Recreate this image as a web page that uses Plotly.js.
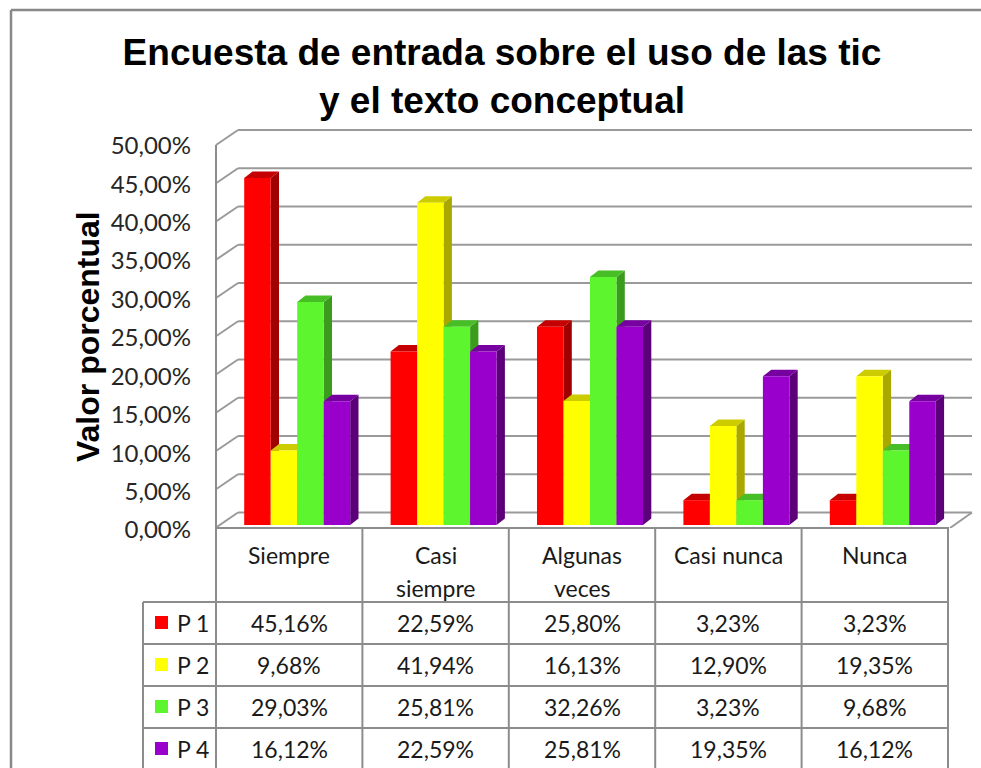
<!DOCTYPE html>
<html>
<head>
<meta charset="utf-8">
<script src="https://cdn.plot.ly/plotly-3.0.1.min.js"></script>
<style>html,body{margin:0;padding:0;background:#fff;}#chart{width:981px;height:768px;}</style>
</head>
<body>
<div id="chart"></div>
<script>
// ---- data ----
const categories = ['Siempre', 'Casi siempre', 'Algunas veces', 'Casi nunca', 'Nunca'];
const headerLines = [['Siempre'], ['Casi', 'siempre'], ['Algunas', 'veces'], ['Casi nunca'], ['Nunca']];
const seriesNames = ['P 1', 'P 2', 'P 3', 'P 4'];
const p1 = [45.16, 22.59, 25.80, 3.23, 3.23];
const p2 = [9.68, 41.94, 16.13, 12.90, 19.35];
const p3 = [29.03, 25.81, 32.26, 3.23, 9.68];
const p4 = [16.12, 22.59, 25.81, 19.35, 16.12];
const yTickVals = [0, 5, 10, 15, 20, 25, 30, 35, 40, 45, 50];
const chartTitle = ['Encuesta de entrada sobre el uso de las tic', 'y el texto conceptual'];
const yTitle = 'Valor porcentual';

// ---- styles ----
const series = [p1, p2, p3, p4];
const frontColors = ['#FF0000', '#FFFF00', '#5CF52E', '#9900CC'];
const sideColors = ['#A00000', '#A8A800', '#3A9B1D', '#5C007A'];
const topColors = ['#C40000', '#CCCC00', '#48BE26', '#7600A0'];
const gridColor = '#9a9a9a';
const lineColor = '#8c8c8c';
const txtFont = 'Lato, "Open Sans", sans-serif';
const txtSize = 23;

const W = 981, H = 768;
const px = x => x / W;
const py = y => 1 - y / H;

// plot area in pixels
const domTop = 120, domBot = 528;
const xLeft = 216, xRight = 948;
const backDx = 22;
// y scales (pixels per unit, zero pixel)
const barZero = 525, barK = 7.684;
const backZero = 512.5, backK = 7.65;
const frontZero = 527.5, frontK = 7.65;
const rangeFor = (zero, k) => { const r0 = -(domBot - zero) / k; return [r0, r0 + (domBot - domTop) / k]; };

const colW = (xRight - xLeft) / categories.length;
const barW = 26.5 / colW;
const groupShift = 8 / colW;
const dxU = 8.3 / colW;
const dyU = 6.5 / barK;
const fmt = v => v.toFixed(2).replace('.', ',') + '%';
const xIdx = categories.map((c, i) => i);

const traces = series.map((vals, k) => ({
  type: 'bar',
  name: seriesNames[k],
  x: xIdx,
  y: vals,
  customdata: categories,
  width: barW,
  offset: -2 * barW + groupShift + k * barW,
  marker: {color: frontColors[k], line: {width: 0}},
  hovertemplate: '%{customdata}: %{y:.2f}%<extra>' + seriesNames[k] + '</extra>',
  showlegend: false
}));

const shapes = [];
// back wall gridlines (y3 = back scale) and side diagonals
yTickVals.forEach(v => {
  shapes.push({type: 'line', layer: 'below', xref: 'paper', yref: 'y3',
    x0: px(xLeft + backDx), x1: px(xRight + backDx + 2), y0: v, y1: v,
    line: {color: gridColor, width: 2}});
  const frontPx = frontZero - frontK * v;
  const front3 = (backZero - frontPx) / backK;
  shapes.push({type: 'line', layer: 'below', xref: 'paper', yref: 'y3',
    x0: px(xLeft), x1: px(xLeft + backDx), y0: front3, y1: v,
    line: {color: gridColor, width: 2}});
});
// floor right diagonal
shapes.push({type: 'line', layer: 'below', xref: 'paper', yref: 'y3',
  x0: px(xRight + 2), x1: px(xRight + backDx + 2), y0: (backZero - domBot) / backK, y1: 0,
  line: {color: gridColor, width: 2}});
// front-left axis line
shapes.push({type: 'line', layer: 'above', xref: 'paper', yref: 'paper',
  x0: px(xLeft), x1: px(xLeft), y0: py(frontZero - frontK * 50), y1: py(H),
  line: {color: lineColor, width: 2}});

// 3D faces of bars
series.forEach((vals, k) => {
  const off = -2 * barW + groupShift + k * barW;
  vals.forEach((v, i) => {
    const xl = i + off, xr = xl + barW;
    shapes.push({type: 'path', layer: 'below', xref: 'x', yref: 'y',
      path: `M ${xr},0 L ${xr + dxU},${dyU} L ${xr + dxU},${v + dyU} L ${xr},${v} Z`,
      fillcolor: sideColors[k], line: {width: 0}});
    shapes.push({type: 'path', layer: 'below', xref: 'x', yref: 'y',
      path: `M ${xl},${v} L ${xr},${v} L ${xr + dxU},${v + dyU} L ${xl + dxU},${v + dyU} Z`,
      fillcolor: topColors[k], line: {width: 0}});
  });
});

// outer chart border
shapes.push({type: 'line', xref: 'paper', yref: 'paper', x0: px(11), x1: px(W), y0: py(10), y1: py(10), line: {color: '#888', width: 2.5}});
shapes.push({type: 'line', xref: 'paper', yref: 'paper', x0: px(11), x1: px(11), y0: py(10), y1: py(H), line: {color: '#888', width: 2.5}});

// data table grid
const tblLeft = 143;
const headerTop = 528, headerBot = 602, rowH = 42;
const rowTops = seriesNames.map((s, k) => headerBot + k * rowH);
shapes.push({type: 'line', xref: 'paper', yref: 'paper', x0: px(xLeft), x1: px(xRight + 1), y0: py(headerTop), y1: py(headerTop), line: {color: lineColor, width: 2}});
rowTops.forEach(t => {
  shapes.push({type: 'line', xref: 'paper', yref: 'paper', x0: px(tblLeft), x1: px(xRight + 1), y0: py(t), y1: py(t), line: {color: lineColor, width: 2}});
});
for (let c = 1; c <= categories.length; c++) {
  const xx = xLeft + c * colW;
  shapes.push({type: 'line', xref: 'paper', yref: 'paper', x0: px(xx), x1: px(xx), y0: py(headerTop), y1: py(H), line: {color: lineColor, width: 2}});
}
shapes.push({type: 'line', xref: 'paper', yref: 'paper', x0: px(tblLeft), x1: px(tblLeft), y0: py(headerBot), y1: py(H), line: {color: lineColor, width: 2}});

// legend keys in the table
rowTops.forEach((t, k) => {
  shapes.push({type: 'rect', xref: 'paper', yref: 'paper', x0: px(155), x1: px(168), y0: py(t + 14), y1: py(t + 27),
    fillcolor: frontColors[k], line: {width: 0}});
});

const annotations = [];
// y-axis title
annotations.push({text: '<b>' + yTitle + '</b>', textangle: -90, xref: 'paper', yref: 'paper',
  x: px(88), y: py(337), showarrow: false, xanchor: 'center', yanchor: 'middle',
  font: {family: '"Liberation Sans", Arial, sans-serif', size: 32, color: '#000'}});
// header labels
headerLines.forEach((lines, i) => {
  lines.forEach((ln, j) => {
    annotations.push({text: ln, xref: 'x', yref: 'paper', x: i, y: py(555 + j * 33),
      showarrow: false, xanchor: 'center', yanchor: 'middle',
      font: {family: txtFont, size: txtSize, color: '#1a1a1a'}});
  });
});
// row labels and values
series.forEach((vals, k) => {
  const cy = py(rowTops[k] + rowH / 2);
  annotations.push({text: seriesNames[k], xref: 'paper', yref: 'paper', x: px(175), y: cy,
    showarrow: false, xanchor: 'left', yanchor: 'middle',
    font: {family: txtFont, size: txtSize, color: '#1a1a1a'}});
  vals.forEach((v, i) => {
    annotations.push({text: fmt(v), xref: 'x', yref: 'paper', x: i, y: cy,
      showarrow: false, xanchor: 'center', yanchor: 'middle',
      font: {family: txtFont, size: txtSize, color: '#1a1a1a'}});
  });
});

const layout = {
  width: W, height: H,
  margin: {l: 0, r: 0, t: 0, b: 0},
  paper_bgcolor: '#fff', plot_bgcolor: 'rgba(0,0,0,0)',
  barmode: 'overlay',
  showlegend: false,
  title: {text: chartTitle.map(t => '<b>' + t + '</b>').join('<br>'),
    x: px(502), xanchor: 'center', xref: 'paper', y: py(65), yanchor: 'top', yref: 'paper',
    font: {family: '"Liberation Sans", Arial, sans-serif', size: 37, color: '#000'}},
  xaxis: {type: 'linear', domain: [px(xLeft), px(xRight)], range: [-0.5, categories.length - 0.5],
    showgrid: false, zeroline: false, showline: false, showticklabels: false, ticks: '', fixedrange: true},
  yaxis: {domain: [py(domBot), py(domTop)], range: rangeFor(barZero, barK), anchor: 'x', side: 'left',
    tickmode: 'array', tickvals: yTickVals, ticktext: yTickVals.map(fmt),
    showgrid: false, zeroline: false, showline: false, ticks: '',
    ticklabelstandoff: 24, ticklabelshift: 5,
    tickfont: {family: txtFont, size: 24, color: '#262626'}, fixedrange: true},
  yaxis3: {overlaying: 'y', anchor: 'x', side: 'right', range: rangeFor(backZero, backK),
    showgrid: false, zeroline: false, showline: false, showticklabels: false, ticks: '', fixedrange: true},
  shapes: shapes,
  annotations: annotations
};

Plotly.newPlot('chart', traces, layout, {displayModeBar: false, responsive: false});
</script>
</body>
</html>
